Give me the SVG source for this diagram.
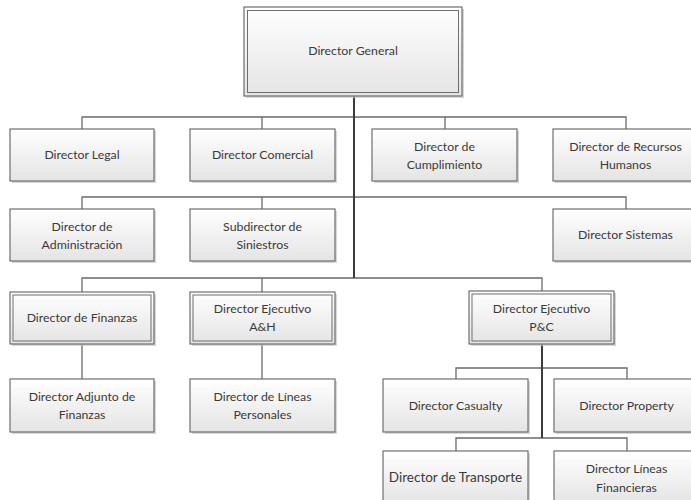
<svg xmlns="http://www.w3.org/2000/svg" width="691" height="500" viewBox="0 0 691 500">
<defs>
<linearGradient id="g" x1="0" y1="0" x2="0" y2="1">
<stop offset="0" stop-color="#ffffff"/>
<stop offset="1" stop-color="#e4e4e4"/>
</linearGradient>
</defs>
<style>
.sh{fill:#c4c4c4;opacity:0.7}
.bx{fill:url(#g);stroke:#6e6e6e;stroke-width:1.2}
.in{fill:none;stroke:#6e6e6e;stroke-width:1}
.t{font-family:Lato,"Liberation Sans",sans-serif;font-size:12.3px;fill:#3a3a3a;text-anchor:middle}
.c{fill:none;stroke:#6a6a6a;stroke-width:1.3}
.trunk{fill:none;stroke:#3c3c3c;stroke-width:2}
</style>
<rect width="691" height="500" fill="#ffffff"/>
<g id="connectors">
<path class="c" d="M82,129V117H626V129M262,117V129M445,117V129"/>
<path class="c" d="M82,209V197H626V209M262,197V209"/>
<path class="c" d="M82,292V278H542V291M262,278V292"/>
<path class="c" d="M82,344V379M262,344V379"/>
<path class="c" d="M456,379V368H627V379M456,451V438H627V451"/>
<path class="trunk" d="M354,96V278M542,344V438"/>
</g>
<g id="n-general">
<rect class="sh" x="246" y="9" width="218" height="89"/>
<rect class="bx" x="244" y="7" width="218" height="89"/>
<rect class="in" x="247.5" y="10.5" width="211" height="82"/>
<text class="t" x="353" y="55">Director General</text>
</g>
<g id="n-legal">
<rect class="sh" x="12" y="131" width="144" height="52"/>
<rect class="bx" x="10" y="129" width="144" height="52"/>
<text class="t" x="82" y="159">Director Legal</text>
</g>
<g id="n-comercial">
<rect class="sh" x="192" y="131" width="145" height="52"/>
<rect class="bx" x="190" y="129" width="145" height="52"/>
<text class="t" x="262.5" y="159">Director Comercial</text>
</g>
<g id="n-cumplimiento">
<rect class="sh" x="374" y="131" width="145" height="52"/>
<rect class="bx" x="372" y="129" width="145" height="52"/>
<text class="t" x="444.5" y="151">Director de</text>
<text class="t" x="444.5" y="169">Cumplimiento</text>
</g>
<g id="n-rrhh">
<rect class="sh" x="555" y="131" width="145" height="52"/>
<rect class="bx" x="553" y="129" width="145" height="52"/>
<text class="t" x="625.5" y="151">Director de Recursos</text>
<text class="t" x="625.5" y="169">Humanos</text>
</g>
<g id="n-admin">
<rect class="sh" x="12" y="211" width="144" height="52"/>
<rect class="bx" x="10" y="209" width="144" height="52"/>
<text class="t" x="82" y="231">Director de</text>
<text class="t" x="82" y="249">Administración</text>
</g>
<g id="n-siniestros">
<rect class="sh" x="192" y="211" width="145" height="52"/>
<rect class="bx" x="190" y="209" width="145" height="52"/>
<text class="t" x="262.5" y="231">Subdirector de</text>
<text class="t" x="262.5" y="249">Siniestros</text>
</g>
<g id="n-sistemas">
<rect class="sh" x="555" y="211" width="145" height="52"/>
<rect class="bx" x="553" y="209" width="145" height="52"/>
<text class="t" x="625.5" y="239">Director Sistemas</text>
</g>
<g id="n-finanzas">
<rect class="sh" x="12" y="294" width="144" height="52"/>
<rect class="bx" x="10" y="292" width="144" height="52"/>
<rect class="in" x="13" y="295" width="138" height="46"/>
<text class="t" x="82" y="322">Director de Finanzas</text>
</g>
<g id="n-ah">
<rect class="sh" x="192" y="294" width="145" height="52"/>
<rect class="bx" x="190" y="292" width="145" height="52"/>
<rect class="in" x="193" y="295" width="139" height="46"/>
<text class="t" x="262.5" y="313">Director Ejecutivo</text>
<text class="t" x="262.5" y="331">A&amp;H</text>
</g>
<g id="n-pc">
<rect class="sh" x="471" y="293" width="145" height="53"/>
<rect class="bx" x="469" y="291" width="145" height="53"/>
<rect class="in" x="472" y="294" width="139" height="47"/>
<text class="t" x="541.5" y="313">Director Ejecutivo</text>
<text class="t" x="541.5" y="331">P&amp;C</text>
</g>
<g id="n-adjunto">
<rect class="sh" x="12" y="381" width="144" height="53"/>
<rect class="bx" x="10" y="379" width="144" height="53"/>
<text class="t" x="82" y="401">Director Adjunto de</text>
<text class="t" x="82" y="419">Finanzas</text>
</g>
<g id="n-personales">
<rect class="sh" x="192" y="381" width="145" height="53"/>
<rect class="bx" x="190" y="379" width="145" height="53"/>
<text class="t" x="262.5" y="401">Director de Líneas</text>
<text class="t" x="262.5" y="419">Personales</text>
</g>
<g id="n-casualty">
<rect class="sh" x="385" y="381" width="145" height="53"/>
<rect class="bx" x="383" y="379" width="145" height="53"/>
<text class="t" x="455.5" y="410">Director Casualty</text>
</g>
<g id="n-property">
<rect class="sh" x="556" y="381" width="145" height="53"/>
<rect class="bx" x="554" y="379" width="145" height="53"/>
<text class="t" x="626.5" y="410">Director Property</text>
</g>
<g id="n-transporte">
<rect class="sh" x="385" y="453" width="145" height="53"/>
<rect class="bx" x="383" y="451" width="145" height="53"/>
<text class="t" x="455.5" y="482" style="font-size:13.5px">Director de Transporte</text>
</g>
<g id="n-financieras">
<rect class="sh" x="556" y="453" width="145" height="53"/>
<rect class="bx" x="554" y="451" width="145" height="53"/>
<text class="t" x="626.5" y="473">Director Líneas</text>
<text class="t" x="626.5" y="492">Financieras</text>
</g>
</svg>
